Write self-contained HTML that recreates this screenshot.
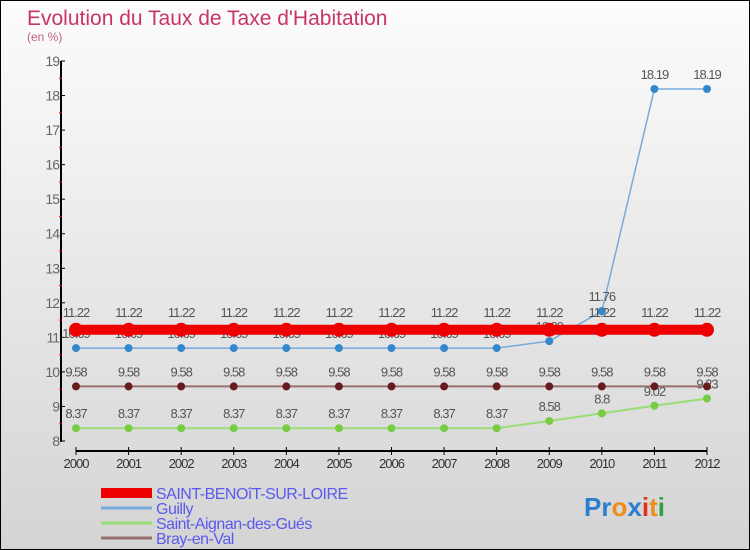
<!DOCTYPE html>
<html><head><meta charset="utf-8"><style>
body{margin:0}
#c{width:750px;height:550px;position:relative;box-sizing:border-box;border:1px solid #000;background:linear-gradient(#fcfcfc,#d4d4d4);font-family:"Liberation Sans",sans-serif;overflow:hidden}
</style></head><body>
<div id="c">
<svg id="s" width="750" height="550" style="position:absolute;left:0;top:0">
<text x="26" y="24" font-size="21" fill="#c8346a">Evolution du Taux de Taxe d'Habitation</text>
<text x="26" y="40" font-size="12" fill="#c06080">(en %)</text>
</svg>
</div>
<script>
const years=[2000,2001,2002,2003,2004,2005,2006,2007,2008,2009,2010,2011,2012];
const saint=[11.22,11.22,11.22,11.22,11.22,11.22,11.22,11.22,11.22,11.22,11.22,11.22,11.22];
const guilly=[10.69,10.69,10.69,10.69,10.69,10.69,10.69,10.69,10.69,10.89,11.76,18.19,18.19];
const aignan=[8.37,8.37,8.37,8.37,8.37,8.37,8.37,8.37,8.37,8.58,8.8,9.02,9.23];
const bray=[9.58,9.58,9.58,9.58,9.58,9.58,9.58,9.58,9.58,9.58,9.58,9.58,9.58];
const yTicks=[8,9,10,11,12,13,14,15,16,17,18,19];
const seriesNames=["SAINT-BENOîT-SUR-LOIRE","Guilly","Saint-Aignan-des-Gués","Bray-en-Val"];
const NS="http://www.w3.org/2000/svg",s=document.getElementById('s');
const X=i=>75+i*(706-75)/(years.length-1);
const Y=v=>440-(v-8)*34.545;
function el(t,a,p){const e=document.createElementNS(NS,t);for(const k in a)e.setAttribute(k,a[k]);(p||s).appendChild(e);return e;}
let ax=el('line',{x1:60,y1:60,x2:60,y2:441,stroke:'#000','stroke-width':2});


yTicks.forEach(v=>{
 const t=el('line',{x1:60,x2:64,y1:Y(v),y2:Y(v),stroke:'#000'});
 
 
 if(v<19){const m=el('line',{x1:58,x2:61,y1:Y(v+0.5),y2:Y(v+0.5),stroke:'#f00'});
 
 }
 const l=el('text',{x:58,y:Y(v)+5,'font-size':14,fill:'#666','text-anchor':'end','letter-spacing':'-1'});
 l.textContent=v;
 
 
});
let xa=el('line',{x1:75,y1:450,x2:706,y2:450,stroke:'#000','stroke-width':2});


years.forEach((y,i)=>{
 const t=el('line',{x1:X(i),x2:X(i),y1:446,y2:454,stroke:'#000'});
 
 
 const l=el('text',{x:X(i),y:467,'font-size':13,fill:'#333','text-anchor':'middle','letter-spacing':'-1'});
 l.textContent=y;
 
 
});
function series(d,color,lw,r,pc,name){
 const g=el('g',{});
 
 
 el('polyline',{points:d.map((v,i)=>X(i)+','+Y(v)).join(' '),fill:'none',stroke:color,'stroke-width':lw},g);
 d.forEach((v,i)=>{
  const c=el('circle',{cx:X(i),cy:Y(v),r:r,fill:pc},g);
  
  
  const t=el('text',{x:X(i),y:Y(v)-10-(r>5?3:0),'font-size':13,fill:'#555','text-anchor':'middle','letter-spacing':'-1'},g);
  t.textContent=v;
  
  
 });
}
series(aignan,'#99dd77',2,4,'#77cc44','series-saint-aignan');
series(bray,'#997070',2,4,'#661c1c','series-bray-en-val');
series(guilly,'#77aadd',1.5,4,'#3388cc','series-guilly');
series(saint,'#ee0000',10,7,'#ee0000','series-saint-benoit');
const lc=['#ee0000','#77aadd','#99dd77','#997070'],lw=[10,3,3,3];
seriesNames.forEach((n,i)=>{
 const y=492+i*15;
 const g=el('g',{});
 
 
 el('line',{x1:100,x2:151,y1:y,y2:y,stroke:lc[i],'stroke-width':lw[i]},g);
 const t=el('text',{x:155,y:y+6,'font-size':16,fill:'#5a5aee','letter-spacing':'-0.5'},g);
 t.textContent=n;
});
const logo=el('text',{x:583,y:515,'font-size':26,'font-weight':'bold','font-family':'"Liberation Sans",sans-serif'});


[['Pr','#2a7fd0'],['o','#f08c1a'],['x','#2a7fd0'],['i','#e03020'],['t','#f08c1a'],['i','#30a040']].forEach(p=>{const t=el('tspan',{fill:p[1]},logo);t.textContent=p[0];});
</script>
</body></html>
